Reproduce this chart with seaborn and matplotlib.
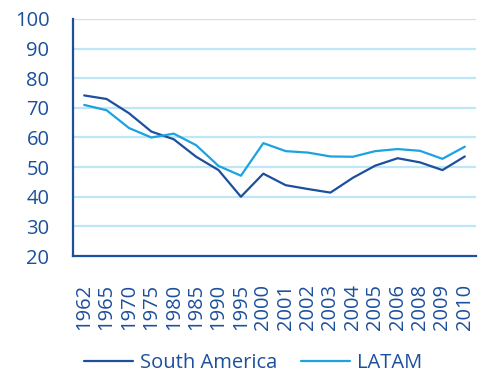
import matplotlib
matplotlib.use("Agg")
import matplotlib.pyplot as plt
import seaborn as sns
import pandas as pd
import numpy as np

years = ["1962", "1965", "1970", "1975", "1980", "1985", "1990", "1995", "2000",
         "2001", "2002", "2003", "2004", "2005", "2006", "2008", "2009", "2010"]
south_america = [74.2, 73.0, 68.2, 62.0, 59.4, 53.5, 49.0, 40.0, 47.8,
                 43.9, 42.6, 41.4, 46.4, 50.5, 53.0, 51.6, 49.0, 53.6]
latam = [71.0, 69.2, 63.2, 60.0, 61.3, 57.4, 50.4, 47.1, 58.1,
         55.4, 54.9, 53.6, 53.5, 55.4, 56.1, 55.5, 52.8, 56.9]
y_ticks = [20, 30, 40, 50, 60, 70, 80, 90, 100]

dark = "#1c4f9c"
light = "#1aa3e0"
grid = "#bfe6f7"
fs = 14.5

sns.set_style("white")
plt.rcParams["font.family"] = ["Open Sans", "DejaVu Sans"]

df = pd.DataFrame({
    "year": years * 2,
    "value": south_america + latam,
    "series": ["South America"] * len(years) + ["LATAM"] * len(years),
})
df["pos"] = list(range(len(years))) * 2

fig = plt.figure(figsize=(4.82, 3.76), dpi=100)
ax = fig.add_axes([73 / 482, 120 / 376, 403 / 482, 237 / 376])

sns.lineplot(data=df, x="pos", y="value", hue="series",
             palette={"South America": dark, "LATAM": light},
             linewidth=1.6, sort=False, ax=ax, legend=False)

ax.set_ylim(20, 100)
ax.set_xlim(-0.5, len(years) - 0.5)
ax.set_yticks(y_ticks)
ax.set_yticklabels([str(t) for t in y_ticks], color=dark, fontsize=fs)
for t in y_ticks[1:]:
    ax.axhline(t, color=grid, linewidth=1.6, zorder=0)

# category boundaries carry the tick marks, labels sit between them
ax.set_xticks(np.arange(-0.5, len(years), 1.0))
ax.set_xticklabels([])
ax.set_xticks(np.arange(len(years)), minor=True)
ax.set_xticklabels(years, minor=True, rotation=90, color=dark, fontsize=fs)
ax.tick_params(axis="x", which="major", length=4, width=1.6, color=dark, direction="out")
ax.tick_params(axis="x", which="minor", length=0, pad=20)
ax.tick_params(axis="y", length=4, width=1.6, color=dark, direction="out", pad=13)

ax.set_xlabel("")
ax.set_ylabel("")
for side in ["top", "right"]:
    ax.spines[side].set_visible(False)
for side in ["left", "bottom"]:
    ax.spines[side].set_color(dark)
    ax.spines[side].set_linewidth(1.6)

handles = [plt.Line2D([], [], color=dark, linewidth=1.6),
           plt.Line2D([], [], color=light, linewidth=1.6)]
fig.legend(handles, ["South America", "LATAM"], loc="lower center",
           bbox_to_anchor=(0.525, -0.04), ncol=2, frameon=False,
           fontsize=fs, labelcolor=dark, handlelength=2.45,
           handletextpad=0.35, columnspacing=1.15)

fig.savefig("out.png", dpi=100)
